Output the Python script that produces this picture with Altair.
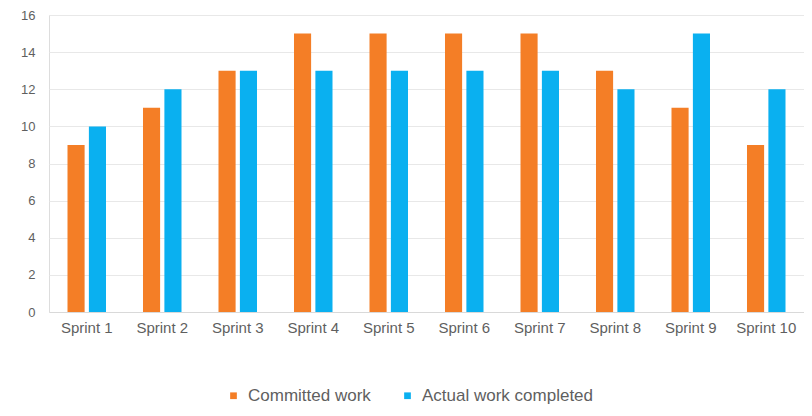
import altair as alt
import pandas as pd

sprints = ["Sprint 1", "Sprint 2", "Sprint 3", "Sprint 4", "Sprint 5",
           "Sprint 6", "Sprint 7", "Sprint 8", "Sprint 9", "Sprint 10"]
committed = [9, 11, 13, 15, 15, 15, 15, 13, 11, 9]
actual = [10, 12, 13, 13, 13, 13, 13, 12, 15, 12]
series = ["Committed work", "Actual work completed"]
colors = ["#F47E26", "#0AB0F0"]
y_ticks = [0, 2, 4, 6, 8, 10, 12, 14, 16]

rows = []
for s, c, a in zip(sprints, committed, actual):
    rows.append({"sprint": s, "series": series[0], "value": c})
    rows.append({"sprint": s, "series": series[1], "value": a})
df = pd.DataFrame(rows)

chart = alt.Chart(df).mark_bar().encode(
    x=alt.X("sprint:N", sort=sprints, title=None,
            scale=alt.Scale(paddingInner=0.49, paddingOuter=0.245),
            axis=alt.Axis(labelAngle=0, labelFontSize=15, labelColor="#5f5f5f",
                          labelFont="Liberation Sans", labelPadding=8,
                          ticks=False, domainColor="#d9d9d9", grid=False)),
    xOffset=alt.XOffset("series:N", sort=series,
                        scale=alt.Scale(paddingInner=0.2)),
    y=alt.Y("value:Q", title=None,
            scale=alt.Scale(domain=[0, 16], nice=False),
            axis=alt.Axis(values=y_ticks, labelFontSize=13, labelColor="#5f5f5f",
                          labelFont="Liberation Sans", labelPadding=14,
                          ticks=False, domain=False, gridColor="#e8e8e8")),
    color=alt.Color("series:N", sort=series,
                    scale=alt.Scale(domain=series, range=colors),
                    legend=alt.Legend(title=None, orient="none", direction="horizontal",
                                      legendX=176, legendY=372,
                                      symbolType="square", symbolSize=45,
                                      labelFontSize=17, labelColor="#5f5f5f",
                                      labelFont="Liberation Sans", labelOffset=6,
                                      labelLimit=400,
                                      columnPadding=28, symbolStrokeWidth=0)),
).properties(
    width=755, height=297,
    padding={"left": 41, "top": 7, "right": 0, "bottom": 96},
    autosize=alt.AutoSizeParams(type="none"),
).configure_view(stroke=None).configure(background="white")

chart.save("out.html", embed_options={"renderer": "svg", "actions": False})
